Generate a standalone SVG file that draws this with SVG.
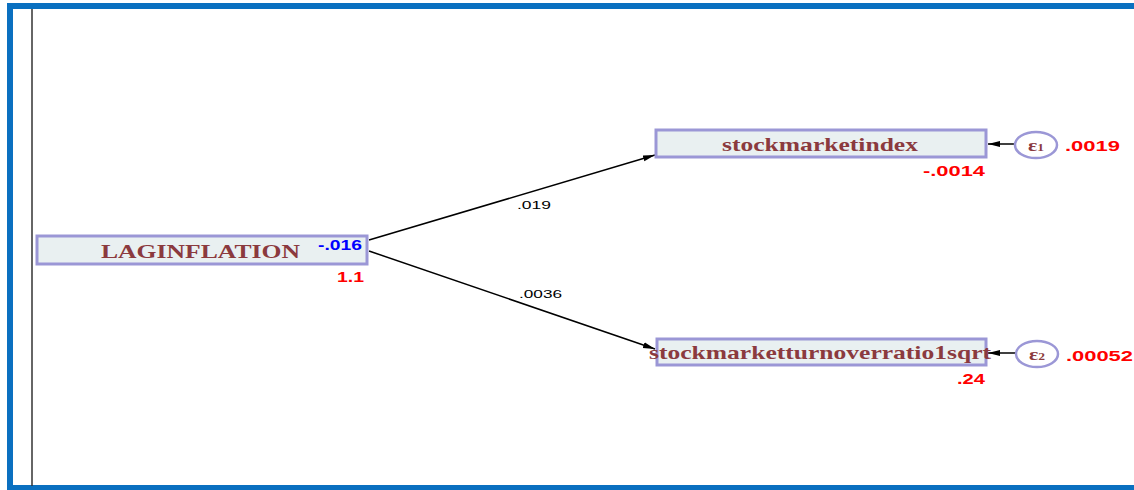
<svg xmlns="http://www.w3.org/2000/svg" width="1134" height="490" viewBox="0 0 1134 490">
<style>
.node rect{fill:#e9f0f1;stroke:#9b97d6;stroke-width:3}
.lbl{font-family:"Liberation Serif",serif;font-weight:bold;font-size:19px;fill:#8b3a3e}
.num{font-family:"Liberation Sans",sans-serif;font-weight:bold;font-size:15px;fill:#ff0000}
.blue{fill:#0000ff}
.coef{font-family:"Liberation Sans",sans-serif;font-size:11px;fill:#000}
.err ellipse{fill:#ffffff;stroke:#9b97d6;stroke-width:2.5}
.eps{font-family:"Liberation Serif",serif;font-weight:bold;font-size:16px;fill:#8b3a3e}
.conn path{fill:none;stroke:#000;stroke-width:1.5}
</style>
<defs>
<marker id="ah" markerWidth="12" markerHeight="8" refX="12" refY="4" orient="auto" markerUnits="userSpaceOnUse">
<path d="M0,1 L12,4 L0,7 Z" fill="#000"/>
</marker>
</defs>
<rect x="0" y="0" width="1134" height="490" fill="#ffffff"/>
<g id="frame">
<rect x="10" y="6" width="1140" height="482" fill="none" stroke="#0a70c0" stroke-width="6"/>
<line x1="32" y1="9" x2="32" y2="486" stroke="#333" stroke-width="1.5"/>
</g>
<g class="conn" id="connectors">
<path d="M369,240 L655,155" marker-end="url(#ah)"/>
<path d="M369,251 L655,349" marker-end="url(#ah)"/>
<path d="M1015,144 L988,144" marker-end="url(#ah)"/>
<path d="M1016,353 L988,353" marker-end="url(#ah)"/>
<text class="coef" x="517" y="209" textLength="34" lengthAdjust="spacingAndGlyphs">.019</text>
<text class="coef" x="519" y="298" textLength="43" lengthAdjust="spacingAndGlyphs">.0036</text>
</g>
<g class="node" id="laginflation">
<rect x="37" y="236" width="330" height="28"/>
<text class="lbl" x="101" y="258" textLength="199" lengthAdjust="spacingAndGlyphs">LAGINFLATION</text>
<text class="num blue" x="318" y="250" textLength="44" lengthAdjust="spacingAndGlyphs">-.016</text>
<text class="num" x="337" y="282" textLength="27" lengthAdjust="spacingAndGlyphs">1.1</text>
</g>
<g class="node" id="stockmarketindex">
<rect x="656" y="130" width="330" height="27"/>
<text class="lbl" x="722" y="151" textLength="196" lengthAdjust="spacingAndGlyphs">stockmarketindex</text>
<text class="num" x="923" y="176" textLength="62" lengthAdjust="spacingAndGlyphs">-.0014</text>
</g>
<g class="node" id="stockmarketturnover">
<rect x="657" y="339" width="329" height="26"/>
<text class="lbl" x="649" y="359" textLength="342" lengthAdjust="spacingAndGlyphs">stockmarketturnoverratio1sqrt</text>
<text class="num" x="957" y="384" textLength="28" lengthAdjust="spacingAndGlyphs">.24</text>
</g>
<g class="err" id="e1">
<ellipse cx="1036" cy="145" rx="21" ry="13"/>
<text class="eps" x="1028" y="151" textLength="16" lengthAdjust="spacingAndGlyphs">ε<tspan font-size="10">1</tspan></text>
<text class="num" x="1065" y="151" textLength="55" lengthAdjust="spacingAndGlyphs">.0019</text>
</g>
<g class="err" id="e2">
<ellipse cx="1037" cy="354" rx="21" ry="13"/>
<text class="eps" x="1029" y="360" textLength="16" lengthAdjust="spacingAndGlyphs">ε<tspan font-size="10">2</tspan></text>
<text class="num" x="1066" y="361" textLength="67" lengthAdjust="spacingAndGlyphs">.00052</text>
</g>
</svg>
